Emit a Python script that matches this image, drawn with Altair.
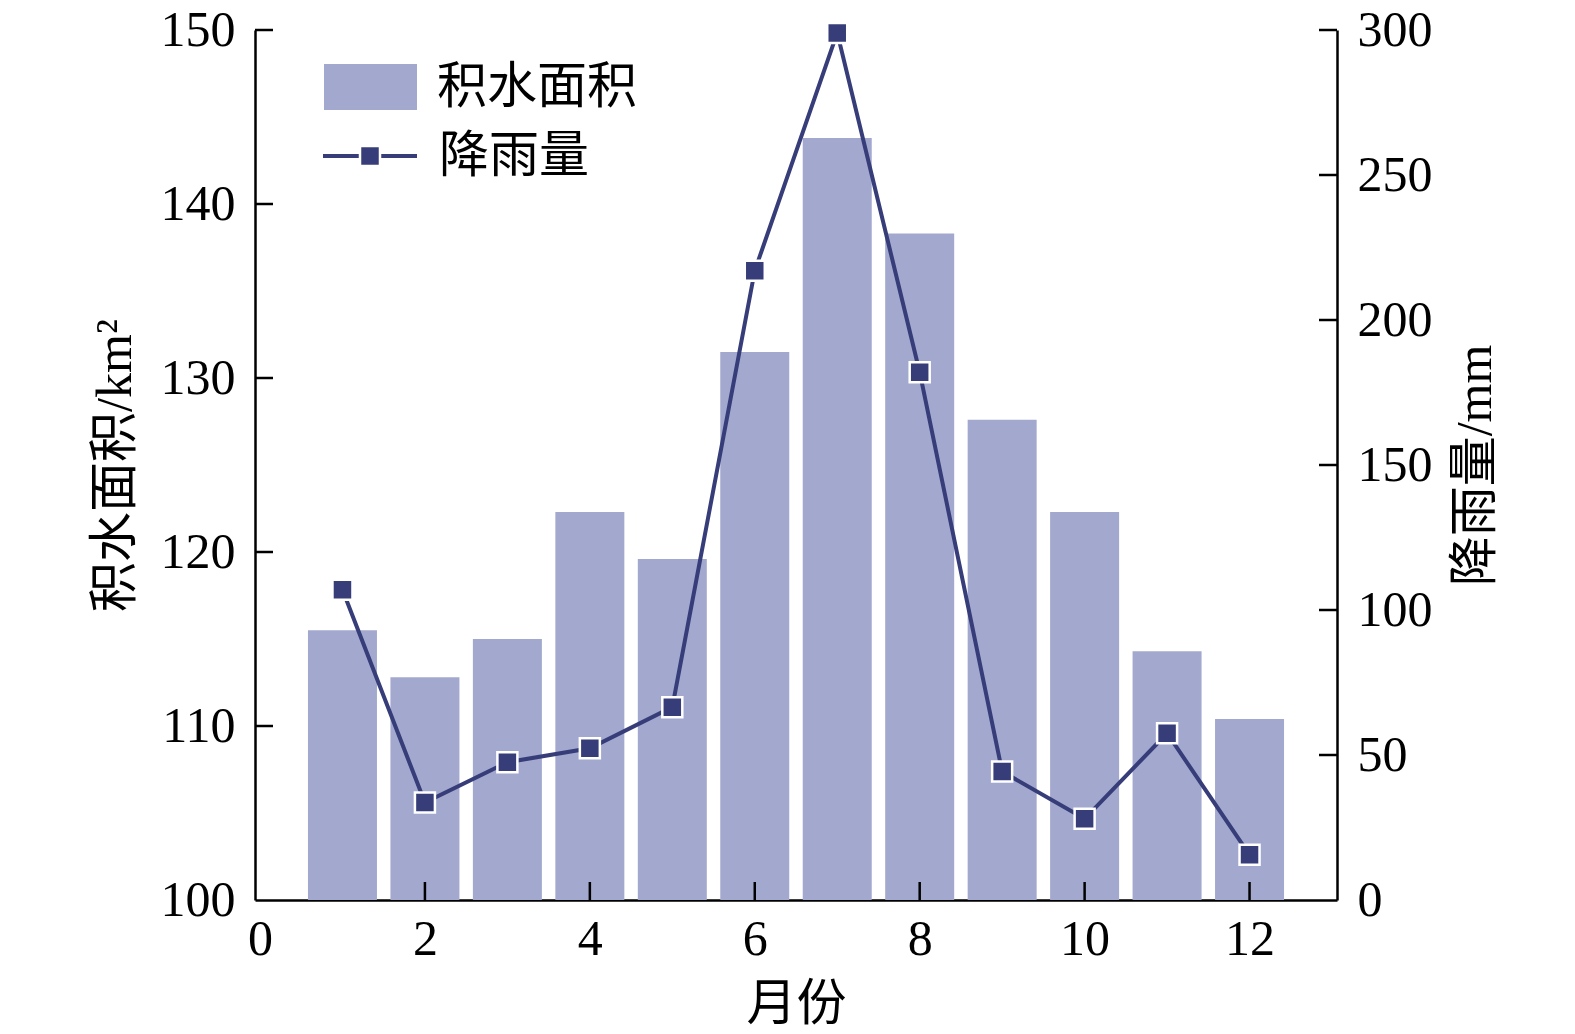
import altair as alt
import pandas as pd

months = [1, 2, 3, 4, 5, 6, 7, 8, 9, 10, 11, 12]
area = [115.5, 112.8, 115.0, 122.3, 119.6, 131.5, 143.8, 138.3, 127.6, 122.3, 114.3, 110.4]
rain = [107, 33.6, 47.5, 52.3, 66.5, 217, 299, 182, 44.3, 28, 57.5, 15.6]
x_ticks = [2, 4, 6, 8, 10, 12]
left_ticks = [110, 120, 130, 140, 150]
right_ticks = [50, 100, 150, 200, 250, 300]

W, H = 1082, 870
BAR = "#a3a8cf"
LINE = "#363d78"
FONT = "Liberation Serif, Noto Sans CJK SC"
FS = 50

df = pd.DataFrame({"month": months, "area": area, "rain": rain})
xt = pd.DataFrame({"v": x_ticks})
lt = pd.DataFrame({"v": left_ticks})
rt = pd.DataFrame({"v": right_ticks})
dummy = pd.DataFrame({"a": [0]})

xscale = alt.Scale(domain=[0, 13], nice=False, zero=False)
lscale = alt.Scale(domain=[100, 150], nice=False, zero=False)
rscale = alt.Scale(domain=[0, 300], nice=False)

axis_common = dict(
    labelFont=FONT, labelFontSize=FS, labelColor="black",
    titleFont=FONT, titleFontSize=FS, titleColor="black", titleFontWeight="normal",
    domainColor="black", domainWidth=2.5, tickSize=0, grid=False, format="d",
)

bars = alt.Chart(df).mark_bar(size=69, color=BAR).encode(
    x=alt.X("month:Q", scale=xscale,
            axis=alt.Axis(values=[0, 2, 4, 6, 8, 10, 12], title="月份", labelPadding=14,
                          titleX=W / 2, titleY=104, titleBaseline="middle", titleAlign="center",
                          **axis_common)),
    y=alt.Y("area:Q", scale=lscale,
            axis=alt.Axis(orient="left", values=[100, 110, 120, 130, 140, 150], title="积水面积/km²",
                          labelPadding=20, titleAngle=270, titleX=-140, titleY=H / 2,
                          titleBaseline="middle", titleAlign="center", **axis_common)),
    y2=alt.datum(100),
)

line = alt.Chart(df).mark_line(color=LINE, strokeWidth=4).encode(
    x=alt.X("month:Q", scale=xscale),
    y=alt.Y("rain:Q", scale=rscale,
            axis=alt.Axis(orient="right", values=[0, 50, 100, 150, 200, 250, 300], title="降雨量/mm",
                          labelPadding=20, titleAngle=270, titleX=138, titleY=H / 2,
                          titleBaseline="middle", titleAlign="center", **axis_common)),
)

pts = alt.Chart(df).mark_point(shape="square", filled=True, size=400, color=LINE,
                               stroke="white", strokeWidth=2.5, opacity=1).encode(
    x=alt.X("month:Q", scale=xscale),
    y=alt.Y("rain:Q", scale=rscale, axis=None),
)

xtick = alt.Chart(xt).mark_rule(color="black", strokeWidth=2.5).encode(
    x=alt.X("v:Q", scale=xscale), y=alt.value(H), y2=alt.value(H - 18))
ltick = alt.Chart(lt).mark_rule(color="black", strokeWidth=2.5).encode(
    y=alt.Y("v:Q", scale=lscale, axis=None), x=alt.value(0), x2=alt.value(18))
rtick = alt.Chart(rt).mark_rule(color="black", strokeWidth=2.5).encode(
    y=alt.Y("v:Q", scale=rscale, axis=None), x=alt.value(W), x2=alt.value(W - 18))

leg_rect = alt.Chart(dummy).mark_rect(color=BAR).encode(
    x=alt.value(69), x2=alt.value(162), y=alt.value(34), y2=alt.value(80))
leg_line = alt.Chart(dummy).mark_rule(color=LINE, strokeWidth=4).encode(
    x=alt.value(68), x2=alt.value(162), y=alt.value(126))
leg_pt = alt.Chart(dummy).mark_point(shape="square", filled=True, size=400, color=LINE,
                                     stroke="white", strokeWidth=2.5, opacity=1).encode(
    x=alt.value(115), y=alt.value(126))
leg_t1 = alt.Chart(dummy).mark_text(text="积水面积", font=FONT, fontSize=FS, align="left",
                                    baseline="middle", color="black").encode(
    x=alt.value(182), y=alt.value(58))
leg_t2 = alt.Chart(dummy).mark_text(text="降雨量", font=FONT, fontSize=FS, align="left",
                                    baseline="middle", color="black").encode(
    x=alt.value(184), y=alt.value(127))

chart = alt.layer(
    bars, line, pts, xtick, ltick, rtick, leg_rect, leg_line, leg_pt, leg_t1, leg_t2
).resolve_scale(y="independent").properties(
    width=W, height=H,
    autosize=alt.AutoSizeParams(type="none"),
    padding={"left": 247, "top": 22, "right": 220, "bottom": 140},
).configure_view(stroke=None)

chart.save("out.html", embed_options={"renderer": "svg", "actions": False})
